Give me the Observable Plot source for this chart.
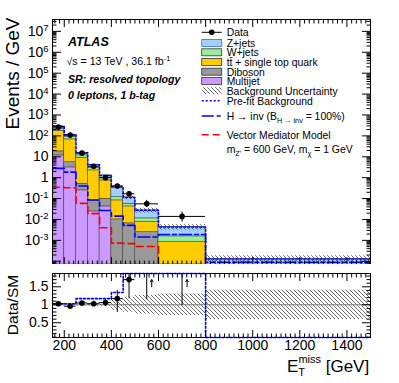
<!DOCTYPE html>
<html><head><meta charset="utf-8">
<script src="https://cdn.jsdelivr.net/npm/d3@7"></script>
<script src="https://cdn.jsdelivr.net/npm/@observablehq/plot@0.6"></script>
<style>
body{margin:0;background:#fff;}
#chart{width:399px;height:383px;position:relative;}
#chart svg{display:block;}
</style></head><body>
<svg width="0" height="0" style="position:absolute">
<defs>
<pattern id="hatch" patternUnits="userSpaceOnUse" width="4" height="4">
<path d="M-1,-1 L5,5 M-1,3 L1,5 M3,-1 L5,1" stroke="#333" stroke-width="0.7"/>
</pattern>
</defs></svg>
<div id="chart"></div>
<script>
// ---------------- data ----------------
const binEdges = [150, 200, 250, 300, 350, 400, 450, 500, 600, 800, 1500];
const dataEvents   = [263, 109, 15, 3.5, 1.0, 0.40, 0.17, 0.056, 0.014];
const dataErrLow   = [255, 106, 14.5, 3.3, 0.87, 0.31, 0.13, 0.037, 0.0075];
const dataErrHigh  = [271, 112, 15.5, 3.8, 1.15, 0.49, 0.22, 0.082, 0.0224];
const multijet = [11.6, 3.10, 0.246, 0.0243, 0.042, 0, 0, 0, 0, 0];
const diboson  = [6.5, 2.46, 0.268, 0.057, 0.056, 0.0101, 0.0065, 0.00248, 0, 0];
const ttbar    = [158.5, 62.2, 8.5, 2.15, 0.64, 0.0716, 0.0357, 0.0050, 0.00083, 0];
const wjets    = [34.2, 19.6, 2.6, 0.77, 0.255, 0.036, 0.0146, 0.0038, 0.00072, 0.00002];
const zjets    = [73, 26.5, 4.0, 1.17, 0.29, 0.237, 0.057, 0.016, 0.0028, 0.00011];
const bkgRelUnc = [0.02, 0.02, 0.03, 0.04, 0.05, 0.16, 0.21, 0.26, 0.30, 0.41];
const hinvSignal = [2.77, 1.85, 0.40, 0.085, 0.027, 0.0145, 0.0052, 0.00145, 0.0019, 0.00009];
const vmmSignal  = [0.35, 0.33, 0.059, 0.019, 0.0040, 0.00074, 0.00070, 0.00051, 0, 0];
const ratioValues  = [1.03, 0.96, 1.05, 1.03, 1.06, 1.17, 1.70, 2.06, 3.25];
const ratioErrLow  = [1.01, 0.94, 1.01, 0.96, 0.96, 0.79, 1.17, 1.14, 0.98];
const ratioErrHigh = [1.05, 0.98, 1.09, 1.10, 1.16, 1.40, 2.30, 3.00, 5.00];
const prefitRatio  = [1.03, 1.03, 1.17, 1.17, 1.17, 1.34, 2.2, 2.2, 2.2, 0.0];
const xTickLabels = [200, 400, 600, 800, 1000, 1200, 1400];
const yTickExponents = [-3, -2, -1, 0, 1, 2, 3, 4, 5, 6, 7];
const ratioTickLabels = [0.5, 1, 1.5];
const legendLabels = ["Data", "Z+jets", "W+jets", "tt\u0304 + single top quark", "Diboson", "Multijet",
  "Background Uncertainty", "Pre-fit Background", "H \u2192 inv (B_H \u2192 inv = 100%)", "Vector Mediator Model"];

// ---------------- style / layout ----------------
const FONT = "'Liberation Sans', Arial, Helvetica, sans-serif";
const W = 399, mainH = 264, ratioH = 119;
const yMin = 7e-5, yMax = 3.7e7, rMin = 0.09, rMax = 1.87;
const col = {mj: "#cc99ff", db: "#999999", tt: "#ffcc00", w: "#99ee99", z: "#a3d1ff"};

const bins = binEdges.slice(0, -1).map((lo, i) => ({i, x1: lo, x2: binEdges[i + 1], xc: (lo + binEdges[i + 1]) / 2}));
const components = [
  {values: multijet, fill: col.mj}, {values: diboson, fill: col.db}, {values: ttbar, fill: col.tt},
  {values: wjets, fill: col.w}, {values: zjets, fill: col.z}
];
const stackRects = [];
const total = bins.map(() => 0);
for (const c of components) {
  bins.forEach((b, i) => {
    const v = c.values[i];
    if (v > 0) stackRects.push({x1: b.x1, x2: b.x2, y1: total[i] > 0 ? total[i] : yMin, y2: total[i] + v, fill: c.fill});
    total[i] += v;
  });
}
const steps = (vals, lo, hi) => bins.flatMap((b, i) => {
  const v = Math.min(Math.max(vals[i], lo), hi);
  return [{x: b.x1, y: v}, {x: b.x2, y: v}];
});
const dataPts = dataEvents.map((v, i) => ({x: bins[i].xc, x1: bins[i].x1, x2: bins[i].x2, y: v, lo: dataErrLow[i], hi: dataErrHigh[i]}));

const yMajor = d3.range(-4, 8).map(e => 10 ** e).filter(v => v >= yMin && v <= yMax);
const yMinor = d3.range(-5, 8).flatMap(e => d3.range(2, 10).map(m => m * 10 ** e)).filter(v => v >= yMin && v <= yMax);
const xMajor = xTickLabels;
const xMinor = d3.range(160, 1500, 20).filter(v => v % 200 !== 0);
const supFmt = d => { const e = Math.round(Math.log10(d)); return e === 0 ? "1" : e === 1 ? "10" : "10^" + e; };

function frameTicks(xMaj, xMin, yMaj, yMin_, big, small) {
  const o = {label: null, tickFormat: () => ""};
  return [
    Plot.axisX(xMaj, {...o, anchor: "bottom", tickSize: -big}),
    Plot.axisX(xMin, {...o, anchor: "bottom", tickSize: -small}),
    Plot.axisX(xMaj, {...o, anchor: "top", tickSize: -big}),
    Plot.axisX(xMin, {...o, anchor: "top", tickSize: -small}),
    Plot.axisY(yMaj, {...o, anchor: "left", tickSize: -9}),
    Plot.axisY(yMin_, {...o, anchor: "left", tickSize: -4.5}),
    Plot.axisY(yMaj, {...o, anchor: "right", tickSize: -9}),
    Plot.axisY(yMin_, {...o, anchor: "right", tickSize: -4.5})
  ];
}

// ---------------- main panel ----------------
const main = Plot.plot({
  width: W, height: mainH, marginLeft: 52, marginRight: 29, marginTop: 19, marginBottom: 0,
  style: {fontFamily: FONT, fontSize: "14px", background: "white", color: "black"},
  x: {domain: [150, 1500]},
  y: {type: "log", domain: [yMin, yMax]},
  marks: [
    Plot.rect(stackRects, {x1: "x1", x2: "x2", y1: "y1", y2: "y2", fill: d => d.fill, stroke: "#333", strokeWidth: 0.5, clip: true}),
    Plot.rect(bins, {x1: "x1", x2: "x2", y1: b => total[b.i] * (1 - bkgRelUnc[b.i]), y2: b => total[b.i] * (1 + bkgRelUnc[b.i]), fill: "url(#hatch)", clip: true}),
    Plot.line(steps(total, yMin, yMax), {x: "x", y: "y", stroke: "#0000ff", strokeWidth: 1.5, strokeDasharray: "2,2", clip: true}),
    Plot.line(steps(hinvSignal, yMin, yMax), {x: "x", y: "y", stroke: "#0000ff", strokeWidth: 1.6, strokeDasharray: "12,3,4,3", clip: true}),
    Plot.line(steps(vmmSignal, yMin, yMax), {x: "x", y: "y", stroke: "#ff0000", strokeWidth: 1.6, strokeDasharray: "7,4", clip: true}),
    Plot.ruleY(dataPts, {x1: "x1", x2: "x2", y: "y", stroke: "black", strokeWidth: 1}),
    Plot.ruleX(dataPts, {x: "x", y1: "lo", y2: "hi", stroke: "black", strokeWidth: 1}),
    Plot.dot(dataPts, {x: "x", y: "y", r: 2.8, fill: "black", stroke: "none"}),
    Plot.frame({stroke: "black", strokeWidth: 1}),
    ...frameTicks(xMajor, xMinor, yMajor, yMinor, 7, 3.5),
    Plot.axisY(yTickExponents.map(e => 10 ** e), {anchor: "left", tickSize: 0, tickPadding: 4, tickFormat: supFmt, fontSize: 14, label: null})
  ]
});

// ---------------- ratio panel ----------------
const inRange = ratioValues.map((v, i) => ({x: bins[i].xc, x1: bins[i].x1, x2: bins[i].x2, y: v, lo: ratioErrLow[i], hi: Math.min(ratioErrHigh[i], rMax)}));
const ratio = Plot.plot({
  width: W, height: ratioH, marginLeft: 52, marginRight: 29, marginTop: 9, marginBottom: 46,
  style: {fontFamily: FONT, fontSize: "14px", background: "white", color: "black"},
  x: {domain: [150, 1500]},
  y: {domain: [rMin, rMax]},
  marks: [
    Plot.rect(bins, {x1: "x1", x2: "x2", y1: b => 1 - bkgRelUnc[b.i], y2: b => 1 + bkgRelUnc[b.i], fill: "url(#hatch)", clip: true}),
    Plot.ruleY([1], {stroke: "#777", strokeWidth: 1}),
    Plot.line(steps(prefitRatio, rMin, rMax), {x: "x", y: "y", stroke: "#0000ff", strokeWidth: 1.6, strokeDasharray: "2,2"}),
    Plot.ruleY(inRange.filter(d => d.y <= rMax), {x1: "x1", x2: "x2", y: "y", stroke: "black"}),
    Plot.ruleX(inRange, {x: "x", y1: "lo", y2: "hi", stroke: "black", clip: true}),
    Plot.dot(inRange.filter(d => d.y <= rMax), {x: "x", y: "y", r: 2.8, fill: "black", stroke: "none"}),
    Plot.arrow(inRange.filter(d => d.y > rMax), {x1: "x", x2: "x", y1: () => rMax - 0.37, y2: () => rMax - 0.17, dx: 5, stroke: "black", strokeWidth: 1, headLength: 4, bend: 0}),
    Plot.frame({stroke: "black", strokeWidth: 1}),
    ...frameTicks(xMajor, xMinor, ratioTickLabels, d3.range(1, 19).map(k => k / 10).filter(v => v >= rMin && v <= rMax && ![0.5, 1, 1.5].includes(v)), 7, 3.5),
    Plot.axisY(ratioTickLabels, {anchor: "left", tickSize: 0, tickPadding: 4, tickFormat: d => String(d), fontSize: 14, label: null}),
    Plot.axisX(xTickLabels, {anchor: "bottom", tickSize: 0, tickPadding: 3, tickFormat: d => String(d), fontSize: 14, label: null})
  ]
});

// superscript post-processing for "10^n" labels
for (const svg of [main, ratio]) {
  d3.select(svg).selectAll("text").each(function () {
    const m = (this.textContent || "").match(/^10\^(-?\d+)$/);
    if (m) {
      this.textContent = "10";
      d3.select(this).append("tspan").attr("dy", "-0.5em").attr("font-size", "0.68em").text(m[1]);
    }
  });
}

// ---------------- annotations ----------------
const gm = d3.select(main).append("g").attr("font-family", FONT).attr("fill", "black").attr("text-anchor", "start");
function rich(g, x, y, size, parts) {
  const t = g.append("text").attr("x", x).attr("y", y).attr("font-size", size);
  let shift = 0;
  for (const p of parts) {
    const ts = t.append("tspan").text(p.t);
    let dy = 0;
    if (p.sub) { dy = 3.5 - shift; shift = 3.5; ts.attr("font-size", size * 0.7); }
    else if (p.sup) { dy = -4.5 - shift; shift = -4.5; ts.attr("font-size", size * 0.7); }
    else { dy = -shift; shift = 0; }
    if (dy) ts.attr("dy", dy);
  }
  return t;
}
gm.append("text").attr("x", 68).attr("y", 45.7).attr("font-size", 12.5).attr("font-weight", "bold").attr("font-style", "italic").text("ATLAS");
rich(gm, 66.5, 65, 10.6, [{t: "\u221As = 13 TeV , 36.1 fb"}, {t: "-1", sup: true}]);
gm.append("text").attr("x", 68).attr("y", 83).attr("font-size", 10.6).attr("font-weight", "bold").attr("font-style", "italic").text("SR: resolved topology");
gm.append("text").attr("x", 68).attr("y", 99).attr("font-size", 10.6).attr("font-weight", "bold").attr("font-style", "italic").text("0 leptons, 1 b-tag");

// legend
const legendRowY = [32.3, 43, 52.3, 62, 71.7, 81, 90.7, 100.7, 116, 134.7];
const legendKinds = [
  {kind: "data"}, {kind: "box", fill: col.z, stroke: "#3366ff"}, {kind: "box", fill: col.w, stroke: "#333"},
  {kind: "box", fill: col.tt, stroke: "#333"}, {kind: "box", fill: col.db, stroke: "#333"}, {kind: "box", fill: col.mj, stroke: "#333"},
  {kind: "hatch"}, {kind: "line", stroke: "#0000ff", dash: "2,2"}, {kind: "line", stroke: "#0000ff", dash: "12,3,4,3"},
  {kind: "line", stroke: "#ff0000", dash: "7,4"}
];
const lx0 = 201.7, lx1 = 221.7, ltx = 226.7;
legendLabels.forEach((label, k) => {
  const cy = legendRowY[k], s = legendKinds[k];
  if (s.kind === "data") {
    gm.append("line").attr("x1", lx0).attr("x2", lx1).attr("y1", cy).attr("y2", cy).attr("stroke", "black");
    gm.append("circle").attr("cx", (lx0 + lx1) / 2).attr("cy", cy).attr("r", 2.8).attr("fill", "black");
  } else if (s.kind === "box") {
    gm.append("rect").attr("x", lx0).attr("y", cy - 3.5).attr("width", lx1 - lx0).attr("height", 7).attr("fill", s.fill).attr("stroke", s.stroke).attr("stroke-width", 0.8);
  } else if (s.kind === "hatch") {
    gm.append("rect").attr("x", lx0).attr("y", cy - 3.5).attr("width", lx1 - lx0).attr("height", 7).attr("fill", "url(#hatch)");
  } else {
    gm.append("line").attr("x1", lx0).attr("x2", lx1).attr("y1", cy).attr("y2", cy).attr("stroke", s.stroke).attr("stroke-width", 1.6).attr("stroke-dasharray", s.dash);
  }
  const m = label.match(/^(.*\(B)_(.*?) = (.*)$/);
  if (m) rich(gm, ltx, cy + 3.8, 10.4, [{t: m[1]}, {t: m[2], sub: true}, {t: " = " + m[3]}]);
  else gm.append("text").attr("x", ltx).attr("y", cy + 3.8).attr("font-size", 10.4).text(label);
});
rich(gm, ltx, 149 + 3.8, 10.4, [{t: "m"}, {t: "Z'", sub: true}, {t: " = 600 GeV, m"}, {t: "\u03C7", sub: true}, {t: " = 1 GeV"}]);

// axis titles
gm.append("text").attr("transform", "translate(18.5,17.5) rotate(-90)").attr("text-anchor", "end").attr("font-size", 19).text("Events / GeV");
const gr = d3.select(ratio).append("g").attr("font-family", FONT).attr("fill", "black").attr("text-anchor", "start");
gr.append("text").attr("transform", "translate(18,41) rotate(-90)").attr("text-anchor", "middle").attr("font-size", 15.5).text("Data/SM");
const xt = gr.append("text").attr("x", 287).attr("y", 107.5).attr("font-size", 17);
xt.append("tspan").text("E");
xt.append("tspan").attr("font-size", 11).attr("dy", 4).text("T");
xt.append("tspan").attr("font-size", 11).attr("dx", -6.7).attr("dy", -13).text("miss");
xt.append("tspan").attr("dy", 9).text(" [GeV]");

const chart = document.getElementById("chart");
chart.append(main, ratio);
</script>
</body></html>
